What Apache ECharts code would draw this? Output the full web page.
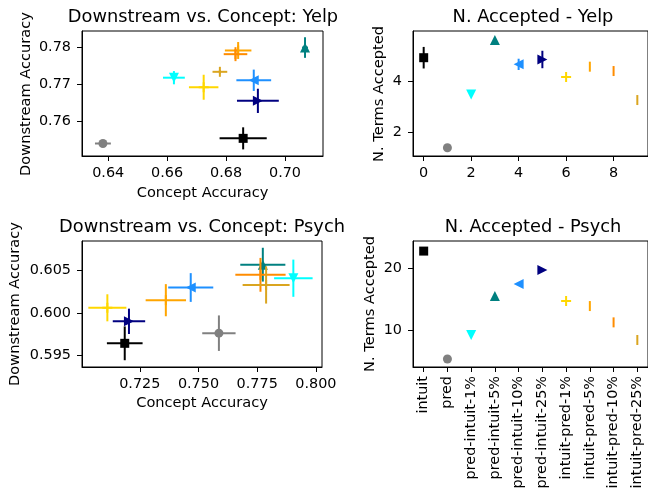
<!DOCTYPE html>
<html>
<head>
<meta charset="utf-8">
<script src="https://cdn.jsdelivr.net/npm/echarts@6/dist/echarts.min.js"></script>
<style>
  html, body { margin: 0; padding: 0; background: #fff; }
  #chart { width: 648px; height: 497px; }
</style>
</head>
<body>
<div id="chart"></div>
<script>
// methods, in plotting order
const methods = ['intuit', 'pred', 'pred-intuit-1%', 'pred-intuit-5%', 'pred-intuit-10%',
  'pred-intuit-25%', 'intuit-pred-1%', 'intuit-pred-5%', 'intuit-pred-10%', 'intuit-pred-25%'];
const colors = ['#000000', '#808080', '#00ffff', '#008080', '#1e90ff',
  '#000080', '#ffd700', '#ffa500', '#ff8c00', '#daa520'];

// Yelp: concept acc / downstream acc (+ std)
const yelpConcept = [0.6858, 0.6382, 0.6623, 0.7068, 0.6894, 0.6908, 0.6724, 0.6841, 0.6832, 0.6779];
const yelpConceptErr = [0.008, 0.0027, 0.0037, 0.001, 0.0059, 0.0071, 0.005, 0.0045, 0.004, 0.0025];
const yelpDown = [0.7553, 0.7539, 0.7718, 0.78, 0.7711, 0.7655, 0.7692, 0.7792, 0.7782, 0.7734];
const yelpDownErr = [0.003, 0.0008, 0.0018, 0.0028, 0.0029, 0.0033, 0.0034, 0.0023, 0.0019, 0.0005];

// Psych
const psychConcept = [0.7186, 0.7587, 0.7904, 0.7774, 0.7467, 0.7204, 0.7112, 0.7361, 0.7764, 0.7788];
const psychConceptErr = [0.0076, 0.0071, 0.0082, 0.0096, 0.0096, 0.0069, 0.0081, 0.0086, 0.0107, 0.01];
const psychDown = [0.5964, 0.5976, 0.6041, 0.6057, 0.603, 0.599, 0.6006, 0.6015, 0.6045, 0.6033];
const psychDownErr = [0.002, 0.0021, 0.0022, 0.002, 0.0017, 0.0015, 0.0016, 0.0019, 0.002, 0.0022];

// N. terms accepted
const yelpAccepted = [4.91, 1.40, 3.48, 5.6, 4.65, 4.84, 4.16, 4.56, 4.39, 3.26];
const yelpAcceptedErr = [0.42, 0, 0, 0, 0.22, 0.34, 0, 0, 0, 0];
const psychAccepted = [22.68, 5.35, 9.2, 15.46, 17.38, 19.63, 14.65, 13.85, 11.23, 8.4];
const psychAcceptedErr = [0, 0, 0, 0, 0, 0, 0, 0, 0, 0];

// tick labels
const yelpXTicks = [0.64, 0.66, 0.68, 0.70];
const yelpYTicks = [0.76, 0.77, 0.78];
const psychXTicks = [0.725, 0.75, 0.775, 0.8];
const psychYTicks = [0.595, 0.6, 0.605];
const yelpAccTicks = [2, 4];
const psychAccTicks = [10, 20];
const idxTicks = [0, 2, 4, 6, 8];
const allIdx = [0, 1, 2, 3, 4, 5, 6, 7, 8, 9];

const FONT = 'DejaVu Sans';
const TICK_FS = 14.4, LABEL_FS = 14.6, TITLE_FS = 17.8;
const plus = 'path://M4,0H6V4H10V6H6V10H4V6H0V4H4Z';
const vbar = 'path://M0,0H1V5H0Z';
const symbols = ['rect', 'circle', 'triangle', 'triangle', 'triangle', 'triangle', plus, vbar, vbar, vbar];
const rotates = [0, 0, 180, 0, 90, -90, 0, 0, 0, 0];
const sizes = [9, 9, 10, 10, 10, 10, 10, [2, 10], [2, 10], [2, 10]];

function axis(grid, min, max, ticks, fmt, pos, extra) {
  const horiz = pos === 'bottom';
  return Object.assign({
    gridIndex: grid, type: 'value', min: min, max: max, position: pos,
    axisLine: { show: true, onZero: false, lineStyle: { color: '#000', width: 1 } },
    axisTick: { show: true, inside: false, length: 5, customValues: ticks, lineStyle: { color: '#000', width: 1 } },
    axisLabel: { customValues: ticks, formatter: fmt, color: '#000', fontSize: TICK_FS, fontFamily: FONT, margin: horiz ? 10 : 11 },
    splitLine: { show: false }
  }, extra || {});
}

function panel(g, xs, ys, xe, ye) {
  const out = [];
  for (let i = 0; i < methods.length; i++) {
    const c = colors[i];
    out.push({
      type: 'custom', xAxisIndex: g, yAxisIndex: g, z: 2 + i * 2, silent: true,
      data: [[xs[i], ys[i], xe[i], ye[i]]],
      renderItem: function (params, api) {
        const x = api.value(0), y = api.value(1), dx = api.value(2), dy = api.value(3);
        const p = api.coord([x, y]);
        const l = api.coord([x - dx, y]), r = api.coord([x + dx, y]);
        const t = api.coord([x, y + dy]), b = api.coord([x, y - dy]);
        const st = { stroke: c, lineWidth: 2 };
        return {
          type: 'group', children: [
            { type: 'line', shape: { x1: l[0], y1: p[1], x2: r[0], y2: p[1] }, style: st },
            { type: 'line', shape: { x1: p[0], y1: t[1], x2: p[0], y2: b[1] }, style: st }
          ]
        };
      }
    });
    out.push({
      type: 'scatter', name: methods[i], xAxisIndex: g, yAxisIndex: g, z: 3 + i * 2, silent: true,
      data: [[xs[i], ys[i]]],
      symbol: symbols[i], symbolSize: sizes[i], symbolRotate: rotates[i],
      itemStyle: { color: c, opacity: 1 }
    });
  }
  return out;
}

function txt(x, y, s, size, rot) {
  return {
    type: 'text', x: x, y: y, rotation: rot || 0, silent: true,
    style: { text: s, fill: '#000', font: size + 'px "' + FONT + '"', textAlign: 'center', textVerticalAlign: 'middle' }
  };
}

const chart = echarts.init(document.getElementById('chart'));
chart.setOption({
  animation: false,
  backgroundColor: '#fff',
  grid: [
    { left: 82, top: 31, width: 241, height: 125, show: true, borderColor: '#000', borderWidth: 1 },
    { left: 413, top: 31, width: 240.5, height: 125, show: true, borderColor: '#000', borderWidth: 1 },
    { left: 82, top: 241, width: 240, height: 126, show: true, borderColor: '#000', borderWidth: 1 },
    { left: 413, top: 241, width: 240.5, height: 126, show: true, borderColor: '#000', borderWidth: 1 }
  ],
  xAxis: [
    axis(0, 0.6311, 0.7129, yelpXTicks, v => v.toFixed(2), 'bottom'),
    axis(1, -0.45, 9.45, idxTicks, v => String(v), 'bottom'),
    axis(2, 0.7004, 0.8026, psychXTicks, v => v.toFixed(3), 'bottom'),
    axis(3, -0.45, 9.45, allIdx, v => methods[v], 'bottom', {
      axisLabel: { customValues: allIdx, formatter: v => methods[v], rotate: 90, color: '#000', fontSize: TICK_FS, fontFamily: FONT, margin: 9 }
    })
  ],
  yAxis: [
    axis(0, 0.7505, 0.7845, yelpYTicks, v => v.toFixed(2), 'left'),
    axis(1, 1.08, 5.95, yelpAccTicks, v => String(v), 'left'),
    axis(2, 0.5936, 0.6085, psychYTicks, v => v.toFixed(3), 'left'),
    axis(3, 4.06, 24.3, psychAccTicks, v => String(v), 'left')
  ],
  graphic: [
    txt(203, 17, 'Downstream vs. Concept: Yelp', TITLE_FS),
    txt(533, 17, 'N. Accepted - Yelp', TITLE_FS),
    txt(202, 227, 'Downstream vs. Concept: Psych', TITLE_FS),
    txt(533, 227, 'N. Accepted - Psych', TITLE_FS),
    txt(202.5, 193, 'Concept Accuracy', LABEL_FS),
    txt(202, 403, 'Concept Accuracy', LABEL_FS),
    txt(26, 94, 'Downstream Accuracy', LABEL_FS, Math.PI / 2),
    txt(15, 304, 'Downstream Accuracy', LABEL_FS, Math.PI / 2),
    txt(379, 94, 'N. Terms Accepted', LABEL_FS, Math.PI / 2),
    txt(370, 304, 'N. Terms Accepted', LABEL_FS, Math.PI / 2)
  ],
  series: [].concat(
    panel(0, yelpConcept, yelpDown, yelpConceptErr, yelpDownErr),
    panel(1, allIdx, yelpAccepted, allIdx.map(() => 0), yelpAcceptedErr),
    panel(2, psychConcept, psychDown, psychConceptErr, psychDownErr),
    panel(3, allIdx, psychAccepted, allIdx.map(() => 0), psychAcceptedErr)
  )
});
</script>
</body>
</html>
